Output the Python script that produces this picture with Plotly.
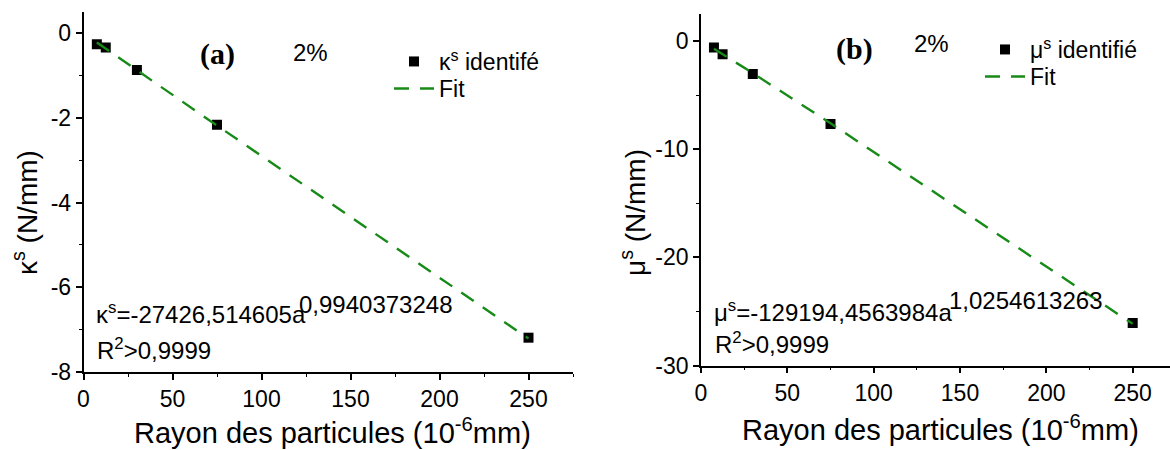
import plotly.graph_objects as go

# ---- data ----
radius = [7.5, 12.5, 30, 75, 250]               # Rayon des particules (1e-6 mm)
kappa_id = [-0.26, -0.34, -0.87, -2.16, -7.19]  # kappa^s identifie (N/mm)
mu_id = [-0.60, -1.23, -3.05, -7.66, -26.06]    # mu^s identifie (N/mm)
fit_x = [7.5, 12.5, 30, 75, 250]
kappa_fit = [-0.22, -0.37, -0.875, -2.18, -7.21]
mu_fit = [-0.72, -1.21, -2.97, -7.61, -26.15]

x_ticks = [0, 50, 100, 150, 200, 250]
kappa_ticks = [0, -2, -4, -6, -8]
mu_ticks = [0, -10, -20, -30]

W, H = 1170, 450
FONT = "Liberation Sans, Arial, sans-serif"
SERIF = "Liberation Serif, Times New Roman, serif"
GREEN = "#178a17"

def px(x):
    return x / W

def py(y):
    return 1 - y / H

def labels(vals):
    return [str(v) for v in vals]

fig = go.Figure()

fig.add_trace(go.Scatter(x=radius, y=kappa_id, mode="markers", showlegend=True,
                         marker=dict(symbol="square", size=10, color="black"),
                         name="κ<sup>s</sup> identifé", xaxis="x", yaxis="y", legend="legend"))
fig.add_trace(go.Scatter(x=fit_x, y=kappa_fit, mode="lines", showlegend=True,
                         line=dict(color=GREEN, width=2.4, dash="15px,11px"),
                         name="Fit", xaxis="x", yaxis="y", legend="legend3"))
fig.add_trace(go.Scatter(x=radius, y=mu_id, mode="markers", showlegend=True,
                         marker=dict(symbol="square", size=10, color="black"),
                         name="μ<sup>s</sup> identifié", xaxis="x2", yaxis="y2", legend="legend2"))
fig.add_trace(go.Scatter(x=fit_x, y=mu_fit, mode="lines", showlegend=True,
                         line=dict(color=GREEN, width=2.4, dash="15px,11px"),
                         name="Fit", xaxis="x2", yaxis="y2", legend="legend4"))

axis_common = dict(showgrid=False, zeroline=False, showline=True, linecolor="black",
                   linewidth=1.6, ticks="outside", ticklen=6, tickwidth=1.6,
                   tickcolor="black", tickfont=dict(family=FONT, size=23, color="black"),
                   automargin=False)
minor_common = dict(ticks="outside", ticklen=3, tickcolor="black", tickwidth=1.4)

def leg(x, y):
    return dict(x=px(x), y=py(y), xanchor="left", yanchor="top", visible=True,
                bgcolor="rgba(0,0,0,0)", font=dict(family=FONT, size=23, color="black"),
                itemwidth=40, tracegroupgap=0)

fig.update_layout(
    width=W, height=H,
    margin=dict(l=0, r=0, t=0, b=0),
    showlegend=True,
    paper_bgcolor="white", plot_bgcolor="white",
    font=dict(family=FONT, color="black"),
    xaxis=dict(domain=[px(83.5), px(573)], range=[0, 275],
               tickvals=x_ticks, ticktext=labels(x_ticks),
               minor=dict(dtick=25, **minor_common), anchor="y", **axis_common),
    yaxis=dict(domain=[py(372), py(12)], range=[-8, 0.5],
               tickvals=kappa_ticks, ticktext=labels(kappa_ticks),
               minor=dict(dtick=1, **minor_common), anchor="x", **axis_common),
    xaxis2=dict(domain=[px(701), 1.0], range=[0, 271.6],
                tickvals=x_ticks, ticktext=labels(x_ticks),
                minor=dict(dtick=25, **minor_common), anchor="y2", **axis_common),
    yaxis2=dict(domain=[py(365.5), py(14)], range=[-30, 2.5],
                tickvals=mu_ticks, ticktext=labels(mu_ticks),
                minor=dict(dtick=5, **minor_common), anchor="x2", **axis_common),
    legend=leg(389, 40),
    legend3=leg(389, 67),
    legend2=leg(980, 28),
    legend4=leg(980, 55),
)

def note(text, x, y, size=24, xanchor="center", yanchor="middle", family=FONT, angle=0):
    fig.add_annotation(text=text, x=px(x), y=py(y), xref="paper", yref="paper",
                       xanchor=xanchor, yanchor=yanchor, showarrow=False, textangle=angle,
                       font=dict(family=family, size=size, color="black"))

# panel (a)
note("<b>(a)</b>", 217, 54, size=30, family=SERIF)
note("2%", 310, 53)
note("κ<sup>s</sup>=-27426,514605a", 94, 313, xanchor="left")
note("0,9940373248", 297, 304, xanchor="left")
note("R<sup>2</sup>>0,9999", 95, 349, xanchor="left")
note("κ<sup>s</sup> (N/mm)", 25, 213, size=28, angle=-90)
note("Rayon des particules (10<sup>-6</sup>mm)", 332, 431, size=29)

# panel (b)
note("<b>(b)</b>", 854, 49, size=30, family=SERIF)
note("2%", 932, 43)
note("μ<sup>s</sup>=-129194,4563984a", 712, 311, xanchor="left")
note("1,0254613263", 947, 300, xanchor="left")
note("R<sup>2</sup>>0,9999", 713, 343, xanchor="left")
note("μ<sup>s</sup> (N/mm)", 633, 213, size=28, angle=-90)
note("Rayon des particules (10<sup>-6</sup>mm)", 940, 428, size=29)

fig.write_html("out.html", config={"displayModeBar": False},
               post_script="document.body.style.margin='0';document.body.style.overflow='hidden';")
